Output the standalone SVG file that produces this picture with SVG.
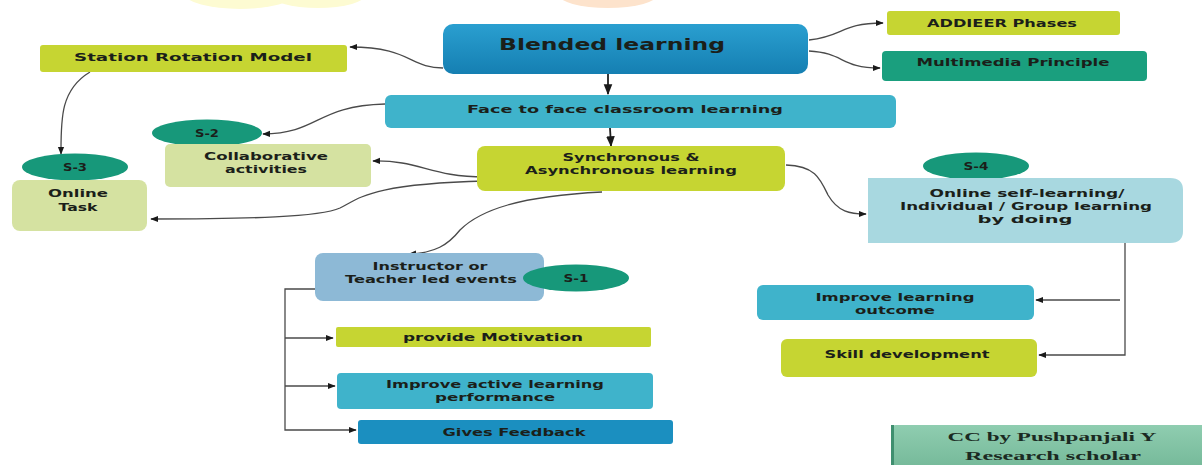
<svg xmlns="http://www.w3.org/2000/svg" width="1202" height="465" viewBox="0 0 1202 465">
<defs>
<style>
.t{font-family:"DejaVu Sans","Verdana",sans-serif;font-weight:bold;font-size:11px;fill:#1b1f1a;text-anchor:middle;dominant-baseline:central}
.big{font-size:15px}
.ser{font-family:"Liberation Serif","Times New Roman",serif;font-weight:bold;font-size:12px;fill:#1a2a22;text-anchor:middle;dominant-baseline:central}
.yg{fill:#c6d532}
.cy{fill:#3fb3cb}
.pg{fill:#d5e2a1}
.el{fill:#17987a}
.c{fill:none;stroke:#4a4a4a;stroke-width:1.3}
.cd{fill:none;stroke:#222;stroke-width:1.8}
</style>
<linearGradient id="gb" x1="0" y1="0" x2="0" y2="1"><stop offset="0" stop-color="#2a9fd0"/><stop offset="1" stop-color="#157fb2"/></linearGradient>
<linearGradient id="gcc" x1="0" y1="0" x2="0" y2="1"><stop offset="0" stop-color="#8fcdb0"/><stop offset="1" stop-color="#74b898"/></linearGradient>
<marker id="ah" viewBox="0 0 10 10" refX="9" refY="5" markerWidth="6" markerHeight="6" orient="auto-start-reverse"><path d="M0,1 L10,5 L0,9 z" fill="#1a1a1a"/></marker>
</defs>
<rect width="1202" height="465" fill="#ffffff"/>
<ellipse cx="240" cy="-6" rx="55" ry="15" fill="#fdfbd2"/>
<ellipse cx="318" cy="-6" rx="48" ry="14" fill="#fdfbd2"/>
<ellipse cx="608" cy="-6" rx="50" ry="14" fill="#fde3cc"/>

<g id="connectors">
<path class="c" d="M443,68 C410,68 410,47 350,47" marker-end="url(#ah)"/>
<path class="c" d="M809,40 C845,36 840,23 883,23" marker-end="url(#ah)"/>
<path class="c" d="M809,51 C845,53 840,68 880,68" marker-end="url(#ah)"/>
<path class="cd" d="M608,74 L608,94" marker-end="url(#ah)"/>
<path class="cd" d="M610,128 L611,146" marker-end="url(#ah)"/>
<path class="c" d="M90,72 C60,90 61,120 61,154" marker-end="url(#ah)"/>
<path class="c" d="M385,104 C315,106 320,133 263,134" marker-end="url(#ah)"/>
<path class="c" d="M485,177 C430,177 420,160 373,161" marker-end="url(#ah)"/>
<path class="c" d="M485,181 C370,184 360,198 340,208 C320,217 250,219 151,219" marker-end="url(#ah)"/>
<path class="c" d="M602,192 C520,196 480,210 460,230 C448,245 435,253 409,254" marker-end="url(#ah)"/>
<path class="c" d="M786,165 C815,166 820,178 828,195 C838,212 850,214 866,214" marker-end="url(#ah)"/>
<path class="c" d="M315,289 L285,289 L285,430 L356,430" marker-end="url(#ah)"/>
<path class="c" d="M285,338 L333,338" marker-end="url(#ah)"/>
<path class="c" d="M285,386 L335,386" marker-end="url(#ah)"/>
<path class="c" d="M1125,243 L1125,355 L1039,355" marker-end="url(#ah)"/>
<path class="c" d="M1120,300 L1036,300" marker-end="url(#ah)"/>
</g>

<g id="blended"><rect x="443" y="24" width="365" height="50" rx="10" fill="url(#gb)"/><text class="t big" x="612" y="45" textLength="226" lengthAdjust="spacingAndGlyphs">Blended learning</text></g>
<g id="addieer"><rect x="887" y="11" width="233" height="24" rx="3" class="yg"/><text class="t" x="1002" y="23" textLength="150" lengthAdjust="spacingAndGlyphs">ADDIEER Phases</text></g>
<g id="multimedia"><rect x="882" y="51" width="265" height="30" rx="4" fill="#1a9f7e"/><text class="t" x="1013" y="62" textLength="193" lengthAdjust="spacingAndGlyphs" fill="#0c2a22">Multimedia Principle</text></g>
<g id="station"><rect x="40" y="45" width="307" height="27" rx="3" class="yg"/><text class="t" x="193" y="57" textLength="238" lengthAdjust="spacingAndGlyphs">Station Rotation Model</text></g>
<g id="face"><rect x="385" y="95" width="511" height="33" rx="6" class="cy"/><text class="t" x="625" y="109" textLength="316" lengthAdjust="spacingAndGlyphs">Face to face classroom learning</text></g>
<g id="s2"><ellipse cx="207" cy="133" rx="55" ry="13.5" class="el"/><text class="t" x="207" y="133" textLength="24" lengthAdjust="spacingAndGlyphs">S-2</text></g>
<g id="collab"><rect x="165" y="144" width="206" height="43" rx="5" class="pg"/><text class="t" x="266" y="156" textLength="124" lengthAdjust="spacingAndGlyphs">Collaborative</text><text class="t" x="266" y="169" textLength="82" lengthAdjust="spacingAndGlyphs">activities</text></g>
<g id="s3"><ellipse cx="75" cy="167" rx="53" ry="13.5" class="el"/><text class="t" x="75" y="167" textLength="24" lengthAdjust="spacingAndGlyphs">S-3</text></g>
<g id="task"><rect x="12" y="180" width="135" height="51" rx="8" class="pg"/><text class="t" x="78" y="193" textLength="60" lengthAdjust="spacingAndGlyphs">Online</text><text class="t" x="78" y="207" textLength="39" lengthAdjust="spacingAndGlyphs">Task</text></g>
<g id="sync"><rect x="477" y="146" width="308" height="45" rx="8" class="yg"/><text class="t" x="631" y="157" textLength="137" lengthAdjust="spacingAndGlyphs">Synchronous &amp;</text><text class="t" x="631" y="170" textLength="212" lengthAdjust="spacingAndGlyphs">Asynchronous learning</text></g>
<g id="s4"><ellipse cx="976" cy="166" rx="53" ry="13.5" class="el"/><text class="t" x="976" y="166" textLength="25" lengthAdjust="spacingAndGlyphs">S-4</text></g>
<g id="selflearn"><path d="M868,178 H1170 Q1183,178 1183,190 V231 Q1183,243 1170,243 H868 Z" fill="#a8d8e0"/><text class="t" x="1027" y="193" textLength="195" lengthAdjust="spacingAndGlyphs">Online self-learning/</text><text class="t" x="1026" y="206" textLength="252" lengthAdjust="spacingAndGlyphs">Individual / Group learning</text><text class="t" x="1025" y="219" textLength="95" lengthAdjust="spacingAndGlyphs">by doing</text></g>
<g id="instructor"><rect x="315" y="253" width="229" height="48" rx="8" fill="#8db9d6"/><text class="t" x="430" y="266" textLength="115" lengthAdjust="spacingAndGlyphs">Instructor or</text><text class="t" x="431" y="279" textLength="172" lengthAdjust="spacingAndGlyphs">Teacher led events</text></g>
<g id="s1"><ellipse cx="576" cy="278" rx="53" ry="13.5" class="el"/><text class="t" x="576" y="278" textLength="25" lengthAdjust="spacingAndGlyphs">S-1</text></g>
<g id="motivation"><rect x="336" y="327" width="315" height="20" rx="2" class="yg"/><text class="t" x="493" y="337.5" textLength="180" lengthAdjust="spacingAndGlyphs">provide Motivation</text></g>
<g id="active"><rect x="337" y="373" width="316" height="36" rx="4" class="cy"/><text class="t" x="495" y="384" textLength="218" lengthAdjust="spacingAndGlyphs">Improve active learning</text><text class="t" x="495" y="397" textLength="120" lengthAdjust="spacingAndGlyphs">performance</text></g>
<g id="feedback"><rect x="358" y="420" width="315" height="24" rx="3" fill="#1b8fc0"/><text class="t" x="514" y="432" textLength="143" lengthAdjust="spacingAndGlyphs" fill="#0d2a3a">Gives Feedback</text></g>
<g id="outcome"><rect x="757" y="285" width="277" height="35" rx="6" class="cy"/><text class="t" x="895" y="297" textLength="159" lengthAdjust="spacingAndGlyphs">Improve learning</text><text class="t" x="895" y="310" textLength="80" lengthAdjust="spacingAndGlyphs">outcome</text></g>
<g id="skill"><rect x="781" y="339" width="256" height="38" rx="6" class="yg"/><text class="t" x="907" y="354" textLength="165" lengthAdjust="spacingAndGlyphs">Skill development</text></g>
<g id="cc"><rect x="891" y="425" width="320" height="45" rx="5" fill="url(#gcc)"/><rect x="891" y="425" width="3" height="40" fill="#3f8f6f"/><text class="ser" x="1052" y="437" textLength="209" lengthAdjust="spacingAndGlyphs">CC by Pushpanjali Y</text><text class="ser" x="1053" y="456" textLength="176" lengthAdjust="spacingAndGlyphs">Research scholar</text></g>
</svg>
